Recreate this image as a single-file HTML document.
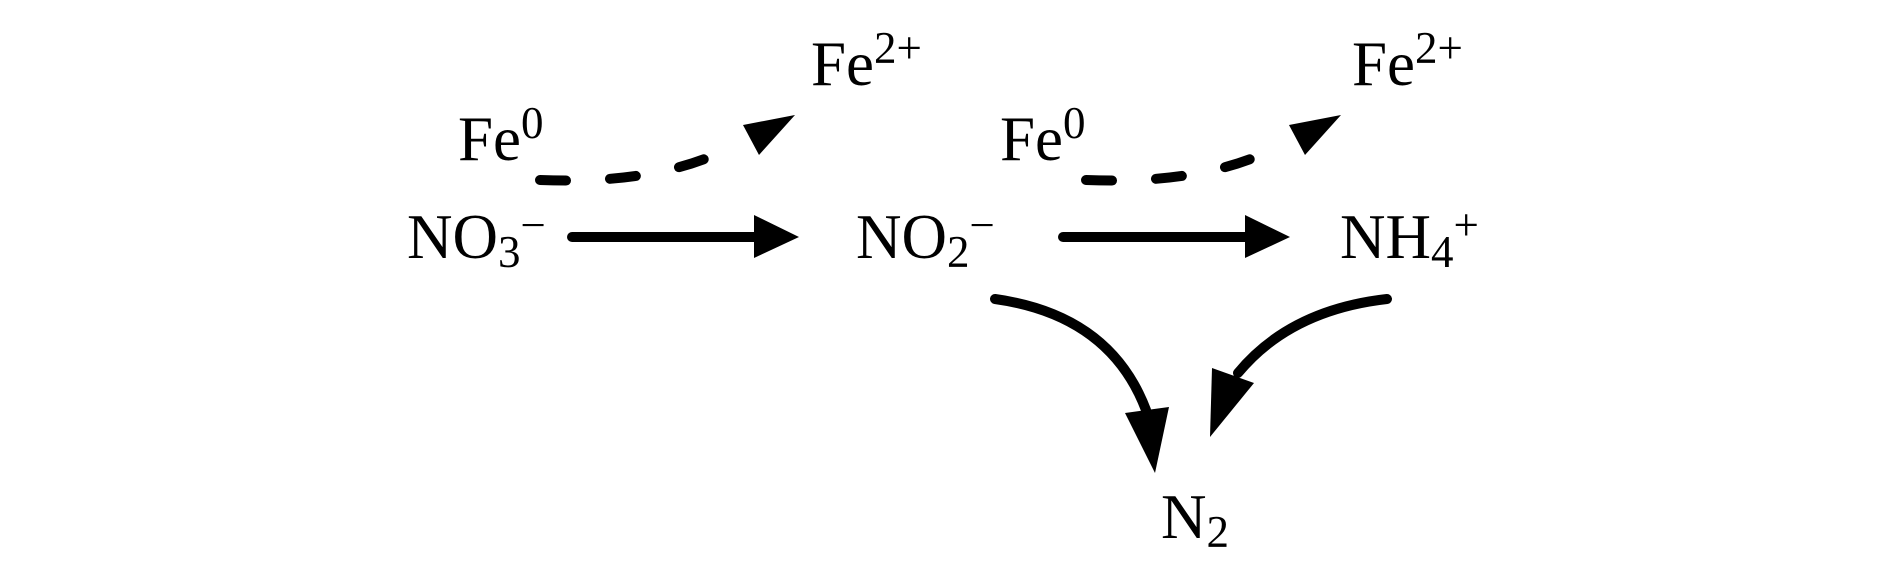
<!DOCTYPE html>
<html><head><style>html,body{margin:0;padding:0;background:#fff;}svg{display:block}</style></head>
<body>
<svg width="1890" height="567" viewBox="0 0 1890 567" xmlns="http://www.w3.org/2000/svg" font-family="Liberation Serif, serif" fill="#000">
<g font-size="63">
<text x="407" y="258">NO<tspan font-size="45" dy="9">3</tspan><tspan font-size="45" dy="-27">−</tspan></text>
<text x="856" y="258">NO<tspan font-size="45" dy="9">2</tspan><tspan font-size="45" dy="-27">−</tspan></text>
<text x="1340" y="258">NH<tspan font-size="45" dy="9">4</tspan><tspan font-size="45" dy="-27">+</tspan></text>
<text x="1161" y="538">N<tspan font-size="45" dy="9">2</tspan></text>
<text x="458" y="160">Fe<tspan font-size="45" dy="-22">0</tspan></text>
<text x="1000" y="160">Fe<tspan font-size="45" dy="-22">0</tspan></text>
<text x="811" y="85">Fe<tspan font-size="45" dy="-22">2+</tspan></text>
<text x="1352" y="85">Fe<tspan font-size="45" dy="-22">2+</tspan></text>
</g>
<g stroke="#000" stroke-width="10" stroke-linecap="round" fill="none">
<line x1="572" y1="237" x2="760" y2="237"/>
<line x1="1063" y1="237" x2="1252" y2="237"/>
<path d="M995 299 Q1110 315 1146 410"/>
<path d="M1387 299 Q1290 310 1238 373"/>
</g>
<g stroke="#000" stroke-width="10" stroke-linecap="round" fill="none" stroke-dasharray="26 44">
<path d="M540 180 Q640 184 707 158"/>
<path d="M1086 180 Q1186 184 1253 158"/>
</g>
<polygon points="754,215 799,237 754,258"/>
<polygon points="1245,215 1290,237 1245,258"/>
<polygon points="795,115 743,125 759,155"/>
<polygon points="1341,115 1289,125 1305,155"/>
<polygon points="1125,413 1169,407 1155,473"/>
<polygon points="1212,368 1254,383 1210,437"/>
</svg>
</body></html>
